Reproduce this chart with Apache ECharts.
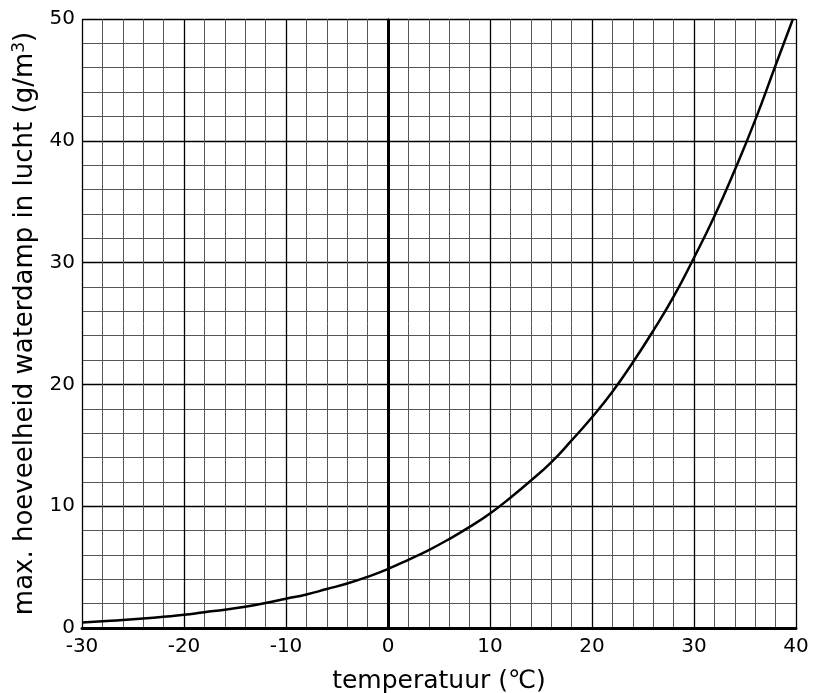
<!DOCTYPE html>
<html>
<head>
<meta charset="utf-8">
<script src="https://cdn.jsdelivr.net/npm/echarts@6/dist/echarts.min.js"></script>
<style>
  html, body { margin: 0; padding: 0; background: #fff; }
  #main { width: 820px; height: 693px; }
</style>
</head>
<body>
<div id="main"></div>
<script>
// temperatuur (°C) en max. waterdamp (g/m3)
const temps = [-30, -28, -26, -24, -22, -20, -18, -16, -14, -12, -10, -8, -6, -4, -2,
    0, 2, 4, 6, 8, 10, 12, 14, 16, 18, 20, 22, 24, 26, 28, 30, 32, 34, 36, 38, 39.7];
const vapour = [0.45, 0.55, 0.65, 0.78, 0.92, 1.08, 1.3, 1.5, 1.75, 2.05, 2.4, 2.75, 3.2, 3.65, 4.2,
    4.85, 5.6, 6.4, 7.3, 8.3, 9.4, 10.7, 12.1, 13.6, 15.4, 17.3, 19.4, 21.8, 24.4, 27.2, 30.4, 33.8, 37.6, 41.7, 46.2, 50];

const font = 'DejaVu Sans';

let myChart = echarts.init(document.getElementById('main'));

option = {
    animation: false,
    grid: { left: 82, right: 24, top: 19, bottom: 65, outerBoundsMode: 'none' },
    xAxis: {
        type: 'value',
        min: -30,
        max: 40,
        interval: 10,
        name: 'temperatuur (℃)',
        nameLocation: 'middle',
        nameGap: 41,
        nameTextStyle: { color: '#000', fontSize: 25, fontFamily: font },
        axisLine: { show: true, onZero: false, lineStyle: { color: '#000', width: 3 } },
        axisTick: { show: false },
        axisLabel: { color: '#000', fontSize: 20, fontFamily: font, margin: 9 },
        splitLine: { show: true, lineStyle: { color: '#000', width: 1.3 } },
        minorTick: { show: false, splitNumber: 5 },
        minorSplitLine: { show: true, lineStyle: { color: '#555', width: 1 } }
    },
    yAxis: {
        type: 'value',
        min: 0,
        max: 50,
        interval: 10,
        name: 'max. hoeveelheid waterdamp in lucht (g/m{sup|3})',
        nameLocation: 'middle',
        nameGap: 40,
        nameTextStyle: {
            color: '#000', fontSize: 26, fontFamily: font,
            rich: { sup: { fontSize: 17, fontFamily: font, color: '#000', verticalAlign: 'top', padding: [0, 0, 12, 0] } }
        },
        axisLine: { show: true, lineStyle: { color: '#000', width: 1.3 } },
        axisTick: { show: true, length: 5, lineStyle: { color: '#000' } },
        axisLabel: { color: '#000', fontSize: 20, fontFamily: font, margin: 7 },
        splitLine: { show: true, lineStyle: { color: '#000', width: 1.3 } },
        minorTick: { show: false, splitNumber: 5 },
        minorSplitLine: { show: true, lineStyle: { color: '#555', width: 1 } }
    },
    series: [
        {
            type: 'line',
            data: temps.map((t, i) => [t, vapour[i]]),
            smooth: true,
            symbol: 'none',
            lineStyle: { color: '#000', width: 2.5 },
            markLine: {
                silent: true,
                symbol: 'none',
                label: { show: false },
                lineStyle: { color: '#000', width: 3, type: 'solid' },
                data: [{ xAxis: 0 }]
            }
        }
    ]
};

myChart.setOption(option);
</script>
</body>
</html>
